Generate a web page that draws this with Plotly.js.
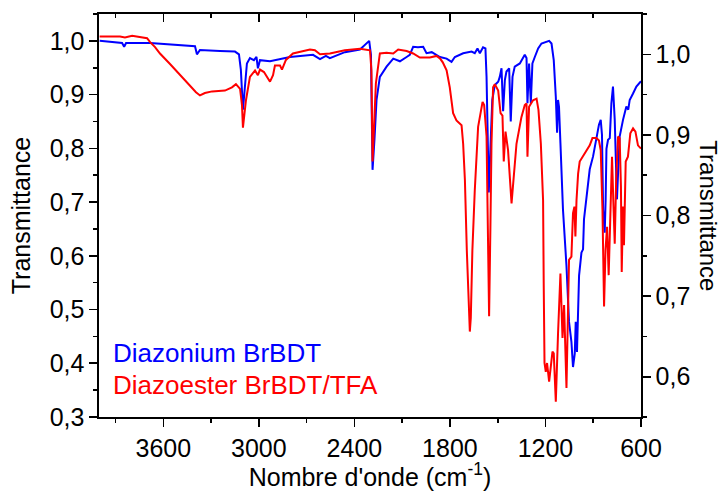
<!DOCTYPE html>
<html>
<head>
<meta charset="utf-8">
<script src="https://cdn.plot.ly/plotly-3.0.1.min.js"></script>
<style>html,body{margin:0;padding:0;background:#fff}#chart{width:723px;height:491px}</style>
</head>
<body>
<div id="chart"></div>
<script>
// Diazonium BrBDT (left axis)
const blueWavenumber = [4000,3903,3859,3846,3834,3683,3527,3401,3389,3370,3244,3150,3125,3113,3100,3087,3075,3056,3031,3015,3006,2993,2930,2805,2660,2616,2579,2554,2460,2365,2334,2307,2296,2286,2274,2261,2240,2198,2156,2114,2072,2052,2031,2001,1968,1947,1914,1863,1821,1790,1769,1717,1664,1644,1627,1612,1592,1577,1570,1562,1556,1546,1534,1518,1497,1487,1476,1466,1455,1445,1428,1418,1407,1393,1361,1330,1319,1313,1303,1292,1282,1267,1246,1225,1194,1177,1162,1148,1135,1127,1121,1115,1106,1100,1090,1068,1052,1037,1027,1016,1010,1002,989,974,964,958,943,922,901,880,864,853,845,838,828,822,817,807,796,786,776,765,759,751,743,734,713,692,680,671,650,629,600];
const blueTransmittance = [1.000,0.998,0.996,0.989,0.996,0.996,0.993,0.990,0.975,0.983,0.981,0.980,0.975,0.946,0.872,0.927,0.958,0.968,0.964,0.970,0.949,0.964,0.962,0.970,0.974,0.966,0.972,0.968,0.979,0.984,0.992,1.000,0.974,0.760,0.816,0.890,0.933,0.952,0.967,0.962,0.970,0.974,0.989,0.988,0.989,0.977,0.979,0.970,0.967,0.961,0.970,0.977,0.980,0.977,0.986,0.977,0.988,0.986,0.933,0.798,0.718,0.798,0.890,0.918,0.924,0.933,0.949,0.869,0.927,0.943,0.949,0.850,0.933,0.952,0.958,0.974,0.968,0.884,0.958,0.884,0.958,0.970,0.986,0.995,0.998,1.000,0.995,0.964,0.896,0.829,0.890,0.877,0.810,0.748,0.686,0.581,0.477,0.440,0.393,0.418,0.477,0.421,0.563,0.606,0.612,0.668,0.709,0.761,0.785,0.822,0.844,0.853,0.825,0.686,0.643,0.705,0.799,0.816,0.819,0.884,0.915,0.853,0.785,0.705,0.761,0.822,0.853,0.878,0.872,0.890,0.902,0.915,0.925];

// Diazoester BrBDT/TFA (right axis)
const redWavenumber = [4000,3872,3841,3796,3702,3683,3652,3621,3558,3495,3432,3395,3370,3339,3294,3213,3169,3144,3118,3106,3100,3090,3081,3056,3024,3006,2993,2968,2955,2930,2911,2899,2867,2855,2830,2786,2679,2648,2616,2554,2460,2365,2302,2293,2286,2276,2265,2240,2198,2156,2125,2072,2031,1989,1926,1884,1863,1845,1821,1801,1780,1759,1727,1717,1706,1694,1681,1675,1669,1659,1644,1623,1595,1585,1570,1562,1554,1546,1539,1529,1518,1497,1482,1470,1462,1451,1435,1413,1399,1382,1351,1330,1319,1313,1303,1278,1256,1244,1229,1215,1211,1206,1198,1190,1177,1156,1148,1135,1121,1106,1093,1083,1068,1052,1037,1027,1018,1012,1005,995,985,953,922,905,880,864,853,842,832,823,813,803,790,782,774,765,756,744,734,726,721,713,707,700,696,682,667,650,635,619,600];
const redTransmittance = [1.022,1.022,1.021,1.023,1.020,1.015,1.009,1.001,0.988,0.974,0.960,0.953,0.949,0.952,0.954,0.955,0.959,0.963,0.957,0.937,0.909,0.924,0.943,0.972,0.980,0.974,0.981,0.978,0.974,0.966,0.974,0.986,0.986,0.981,0.993,1.001,1.006,1.005,1.000,1.001,1.005,1.007,1.005,0.980,0.867,0.918,0.964,1.001,1.002,1.001,1.006,1.004,1.001,0.996,0.996,0.998,0.995,0.990,0.980,0.959,0.927,0.918,0.912,0.889,0.844,0.757,0.683,0.656,0.673,0.757,0.831,0.910,0.941,0.937,0.898,0.782,0.675,0.782,0.889,0.959,0.963,0.955,0.927,0.924,0.867,0.904,0.881,0.815,0.844,0.889,0.922,0.937,0.939,0.873,0.935,0.943,0.945,0.931,0.889,0.819,0.716,0.617,0.606,0.617,0.594,0.631,0.629,0.569,0.654,0.728,0.648,0.689,0.586,0.745,0.749,0.803,0.811,0.774,0.819,0.852,0.867,0.877,0.887,0.896,0.896,0.893,0.881,0.807,0.687,0.757,0.786,0.726,0.819,0.873,0.819,0.765,0.844,0.898,0.896,0.836,0.730,0.811,0.763,0.831,0.867,0.873,0.902,0.908,0.904,0.887,0.883];

const xTickVals = [3600,3000,2400,1800,1200,600];
const seriesNames = ["Diazonium BrBDT","Diazoester BrBDT/TFA"];
const axisTitleX = "Nombre d'onde (cm<sup>-1</sup>)";
const axisTitleY = "Transmittance";

const FONT = "Liberation Sans, Arial, sans-serif";
const XR = [4004, 600];

const traces = [
  {x: blueWavenumber, y: blueTransmittance, type:'scatter', mode:'lines', name: seriesNames[0],
   line:{color:'#0000FF', width:2}, xaxis:'x', yaxis:'y'},
  {x: redWavenumber, y: redTransmittance, type:'scatter', mode:'lines', name: seriesNames[1],
   line:{color:'#FF0000', width:2}, xaxis:'x2', yaxis:'y2'}
];

const common = {showgrid:false, zeroline:false, showline:true, linecolor:'#000', linewidth:1.6,
  tickcolor:'#000', tickwidth:1.6, ticklen:8, tickfont:{family:FONT, size:25, color:'#000'}};

const layout = {
  width:723, height:491,
  margin:{l:99, r:82, t:14, b:74},
  paper_bgcolor:'#fff', plot_bgcolor:'#fff',
  separators:',.',
  showlegend:false,
  font:{family:FONT, color:'#000'},
  xaxis: Object.assign({}, common, {
    range: XR, tickvals: xTickVals, ticks:'outside', anchor:'y',
    minor:{dtick:300, tick0:600, ticks:'outside', ticklen:4, tickcolor:'#000', tickwidth:1.6},
    title:{text: axisTitleX, font:{family:FONT, size:25, color:'#000'}, standoff:4}
  }),
  xaxis2: Object.assign({}, common, {
    range: XR, tickvals: xTickVals, ticks:'inside', overlaying:'x', side:'top', anchor:'y2',
    showticklabels:false,
    minor:{dtick:300, tick0:600, ticks:'inside', ticklen:4, tickcolor:'#000', tickwidth:1.6}
  }),
  yaxis: Object.assign({}, common, {
    range:[0.3, 1.05], dtick:0.1, tick0:0.3, tickformat:'.1f', ticks:'outside', anchor:'x',
    minor:{dtick:0.05, tick0:0.3, ticks:'outside', ticklen:4, tickcolor:'#000', tickwidth:1.6},
    title:{text: axisTitleY, font:{family:FONT, size:25, color:'#000'}, standoff:12}
  }),
  yaxis2: Object.assign({}, common, {
    range:[0.55, 1.05], dtick:0.1, tick0:0.6, tickformat:'.1f', ticks:'outside',
    overlaying:'y', side:'right', anchor:'x2',
    minor:{dtick:0.05, tick0:0.55, ticks:'outside', ticklen:4, tickcolor:'#000', tickwidth:1.6}
  }),
  annotations:[
    {text: seriesNames[0], xref:'paper', yref:'paper', x:0.022, y:0.159, xanchor:'left', yanchor:'middle',
     showarrow:false, font:{family:FONT, size:26, color:'#0000FF'}},
    {text: seriesNames[1], xref:'paper', yref:'paper', x:0.022, y:0.079, xanchor:'left', yanchor:'middle',
     showarrow:false, font:{family:FONT, size:26, color:'#FF0000'}},
    {text: axisTitleY, xref:'paper', yref:'paper', x:1.124, y:0.5, xanchor:'center', yanchor:'middle',
     textangle:90, showarrow:false, font:{family:FONT, size:24, color:'#000'}}
  ]
};

Plotly.newPlot('chart', traces, layout, {staticPlot:true, displayModeBar:false});
</script>
</body>
</html>
